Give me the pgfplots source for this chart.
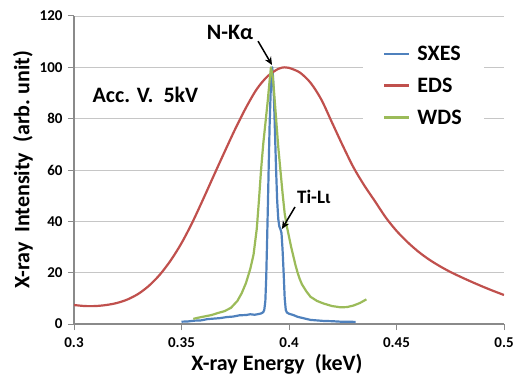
\documentclass[border=0pt]{standalone}
\usepackage{fontspec}
\setmainfont{Carlito}
\usepackage{pgfplots}
\pgfplotsset{compat=1.18}
\usetikzlibrary{arrows.meta}
\definecolor{sxes}{HTML}{4F81BD}
\definecolor{eds}{HTML}{C0504D}
\definecolor{wds}{HTML}{9BBB59}
\definecolor{gridc}{HTML}{C6C6C6}
\definecolor{axisc}{HTML}{8A8A8A}
\begin{document}
\begin{tikzpicture}
\begin{axis}[
  scale only axis, width=430pt, height=308pt,
  xmin=0.3, xmax=0.5, ymin=0, ymax=120,
  xtick={0.3,0.35,0.4,0.45,0.5},
  xticklabels={0.3,0.35,0.4,0.45,0.5},
  ytick={0,20,40,60,80,100,120},
  ymajorgrids, grid style={gridc, line width=0.9pt},
  axis x line*=bottom, axis y line*=left,
  axis line style={axisc, line width=1.3pt},
  tick style={axisc, line width=1pt},
  tick align=outside, major tick length=6pt,
  ticklabel style={font=\bfseries\fontsize{15}{18}\selectfont},
  yticklabel style={xshift=-2pt},
  xticklabel style={yshift=-4pt},
  /pgf/number format/assume math mode=true,
  xlabel={X-ray Energy\ \ (keV)},
  ylabel={X-ray\ \ Intensity\ \ (arb.\ unit)},
  label style={font=\bfseries\fontsize{22}{26}\selectfont},
  xlabel style={xshift=-12pt},
  legend style={at={(rel axis cs:0.672,0.93)}, anchor=north west, draw=none, fill=white,
    inner xsep=20pt, inner ysep=6pt, font=\bfseries\fontsize{22}{26}\selectfont, row sep=12pt},
  legend cell align=left,
  legend image code/.code={\draw[#1, line width=2.4pt] (0pt,0pt) -- (25pt,0pt); \path (30pt,0pt);},
  every axis plot/.append style={line width=2.2pt, line join=round},
]
\addplot[sxes] coordinates {
(0.350,0.9) (0.353,1.0) (0.356,1.3) (0.359,1.4) (0.362,1.9) (0.365,2.1) (0.368,2.3)
(0.371,2.7) (0.374,2.9) (0.377,3.4) (0.380,3.5) (0.382,3.8) (0.384,3.6) (0.386,3.9)
(0.387,4.1) (0.388,4.6) (0.3885,5.5) (0.3890,9) (0.3894,18) (0.3898,32) (0.3902,47) (0.3906,63)
(0.3910,78) (0.3915,91) (0.3920,99) (0.3922,100) (0.3925,97) (0.3930,88) (0.3935,74)
(0.3940,60) (0.3945,48) (0.3950,41) (0.3955,38) (0.3960,37) (0.3965,35.5) (0.3970,29)
(0.3975,20) (0.3980,10) (0.3985,5.5) (0.3990,4.5) (0.4000,4.0) (0.402,3.5) (0.404,2.8)
(0.407,2.2) (0.410,1.6) (0.413,1.4) (0.416,1.2) (0.420,1.1) (0.424,0.9) (0.428,0.9) (0.431,0.8)
};
\addlegendentry{SXES}
\addplot[eds, smooth] coordinates {
(0.300,7.4) (0.305,7.0) (0.310,7.0) (0.315,7.4) (0.320,8.2) (0.325,9.6) (0.330,11.8)
(0.335,15.0) (0.340,19.3) (0.345,24.8) (0.350,31.5) (0.355,39.5) (0.360,48.5) (0.365,57.8)
(0.370,67.0) (0.375,76.0) (0.380,84.3) (0.385,91.5) (0.390,96.5) (0.395,99.4) (0.398,100)
(0.400,99.8) (0.405,98.0) (0.410,94.0) (0.415,87.5) (0.420,78.5) (0.425,69.5) (0.430,61.0)
(0.435,54.0) (0.440,47.8) (0.445,41.5) (0.450,36.3) (0.455,32.0) (0.460,28.3) (0.465,25.2)
(0.470,22.6) (0.475,20.3) (0.480,18.3) (0.485,16.4) (0.490,14.6) (0.495,12.9) (0.500,11.3)
};
\addlegendentry{EDS}
\addplot[wds] coordinates {
(0.3555,2.0) (0.358,2.5) (0.361,3.0) (0.364,3.5) (0.367,4.3) (0.370,5.0) (0.373,6.3)
(0.376,9.0) (0.378,12) (0.380,16) (0.382,21.5) (0.3835,27) (0.385,37) (0.386,48)
(0.387,60) (0.388,70) (0.389,78) (0.390,86) (0.391,95) (0.3916,100) (0.3925,96)
(0.393,91) (0.394,80) (0.395,69) (0.396,60) (0.397,51) (0.398,43) (0.399,38) (0.400,34)
(0.401,30) (0.402,26.5) (0.403,23) (0.404,20) (0.405,17.5) (0.406,15.5) (0.408,12.8)
(0.410,10.6) (0.413,9.0) (0.416,8.0) (0.420,7.0) (0.424,6.5) (0.427,6.6) (0.430,7.2)
(0.433,8.2) (0.436,9.6)
};
\addlegendentry{WDS}
\node[font=\bfseries\fontsize{22}{26}\selectfont] at (axis cs:0.3726,113.4) {N-Kα};
\draw[-{Stealth[length=8pt,width=7pt]}, line width=1.5pt] (axis cs:0.3856,110.2) -- (axis cs:0.3921,100.9);
\node[font=\bfseries\fontsize{22}{26}\selectfont, anchor=west] at (axis cs:0.307,89.2) {Acc. V.\ \ 5kV};
\node[font=\bfseries\fontsize{19}{22}\selectfont, anchor=west, inner sep=0pt] at (axis cs:0.4037,49.5) {Ti-Lι};
\draw[-{Stealth[length=8pt,width=7pt]}, line width=1.5pt] (axis cs:0.4028,45.6) -- (axis cs:0.3967,37);
\end{axis}
\pgfresetboundingbox
\path[use as bounding box] (current axis.south west) ++(-74pt,-54pt) rectangle ([shift={(11pt,16pt)}]current axis.north east);
\end{tikzpicture}
\end{document}
